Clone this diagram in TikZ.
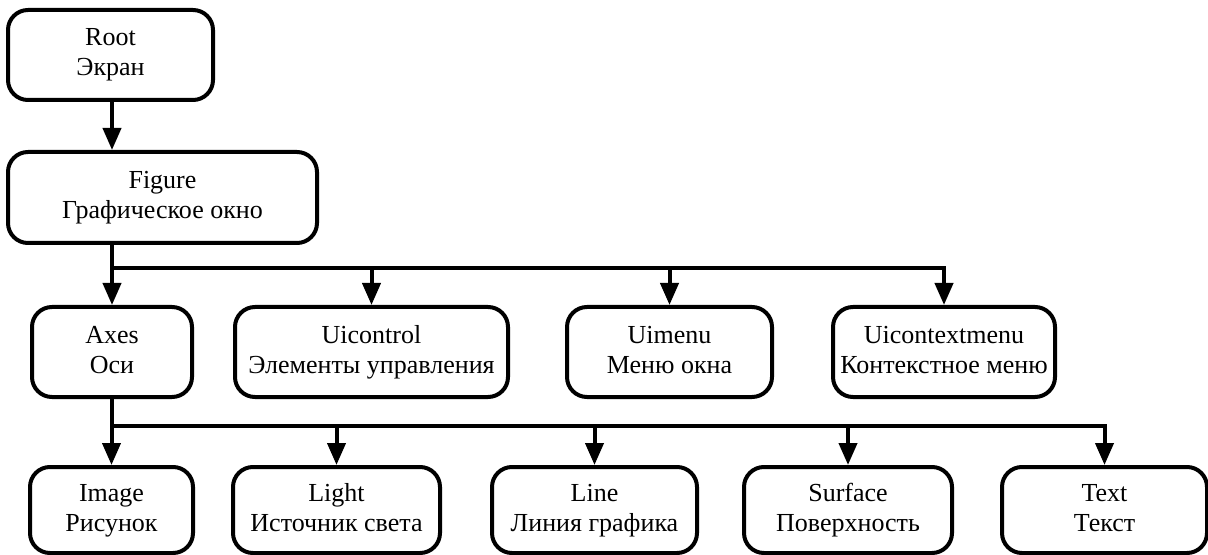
\documentclass[tikz,border=0pt]{standalone}
\usepackage{fontspec}
\setmainfont{Liberation Serif}
\usetikzlibrary{arrows.meta}
\newcommand{\twolines}[2]{\strut#1\\\strut#2}
\begin{document}
\begin{tikzpicture}[x=0.5pt,y=-0.5pt,
  box/.style 2 args={draw, line width=2pt, rounded corners=10pt, align=center,
    minimum width=0.5pt*#1, minimum height=0.5pt*#2, inner sep=0pt,
    font=\fontsize{13pt}{15pt}\selectfont},
  conn/.style={line width=2pt, line join=miter},
  arr/.style={conn, -{Triangle[width=9pt,length=11pt]}}]
\useasboundingbox (0,0) rectangle (1208,555);
\node[box={205}{90}] (root) at (110.5,55) {\twolines{Root}{Экран}};
\node[box={309}{91}] (fig) at (162.5,197.5) {\twolines{Figure}{Графическое окно}};
\node[box={160}{90}] (axes) at (112,352) {\twolines{Axes}{Оси}};
\node[box={273}{90}] (uic) at (371.5,352) {\twolines{Uicontrol}{Элементы управления}};
\node[box={205}{90}] (uim) at (669.5,352) {\twolines{Uimenu}{Меню окна}};
\node[box={222}{90}] (uictx) at (944,352) {\twolines{Uicontextmenu}{Контекстное меню}};
\node[box={163}{86}] (img) at (111.5,510) {\twolines{Image}{Рисунок}};
\node[box={207}{86}] (light) at (336.5,510) {\twolines{Light}{Источник света}};
\node[box={205}{86}] (line) at (594.5,510) {\twolines{Line}{Линия графика}};
\node[box={208}{86}] (surf) at (848,510) {\twolines{Surface}{Поверхность}};
\node[box={205}{86}] (txt) at (1104.5,510) {\twolines{Text}{Текст}};
\coordinate (bus1) at (0,268);
\coordinate (bus2) at (0,426);
\draw[arr] (root.south -| 112,0) -- (fig.north -| 112,0);
\draw[arr] (fig.south -| axes.north) -- (axes.north);
\draw[arr] (axes.north |- bus1) -| (uictx.north);
\draw[arr] (uic.north |- bus1) -- (uic.north);
\draw[arr] (uim.north |- bus1) -- (uim.north);
\draw[arr] (axes.south -| img.north) -- (img.north);
\draw[arr] (img.north |- bus2) -| (txt.north);
\draw[arr] (light.north |- bus2) -- (light.north);
\draw[arr] (line.north |- bus2) -- (line.north);
\draw[arr] (surf.north |- bus2) -- (surf.north);
\end{tikzpicture}
\end{document}
